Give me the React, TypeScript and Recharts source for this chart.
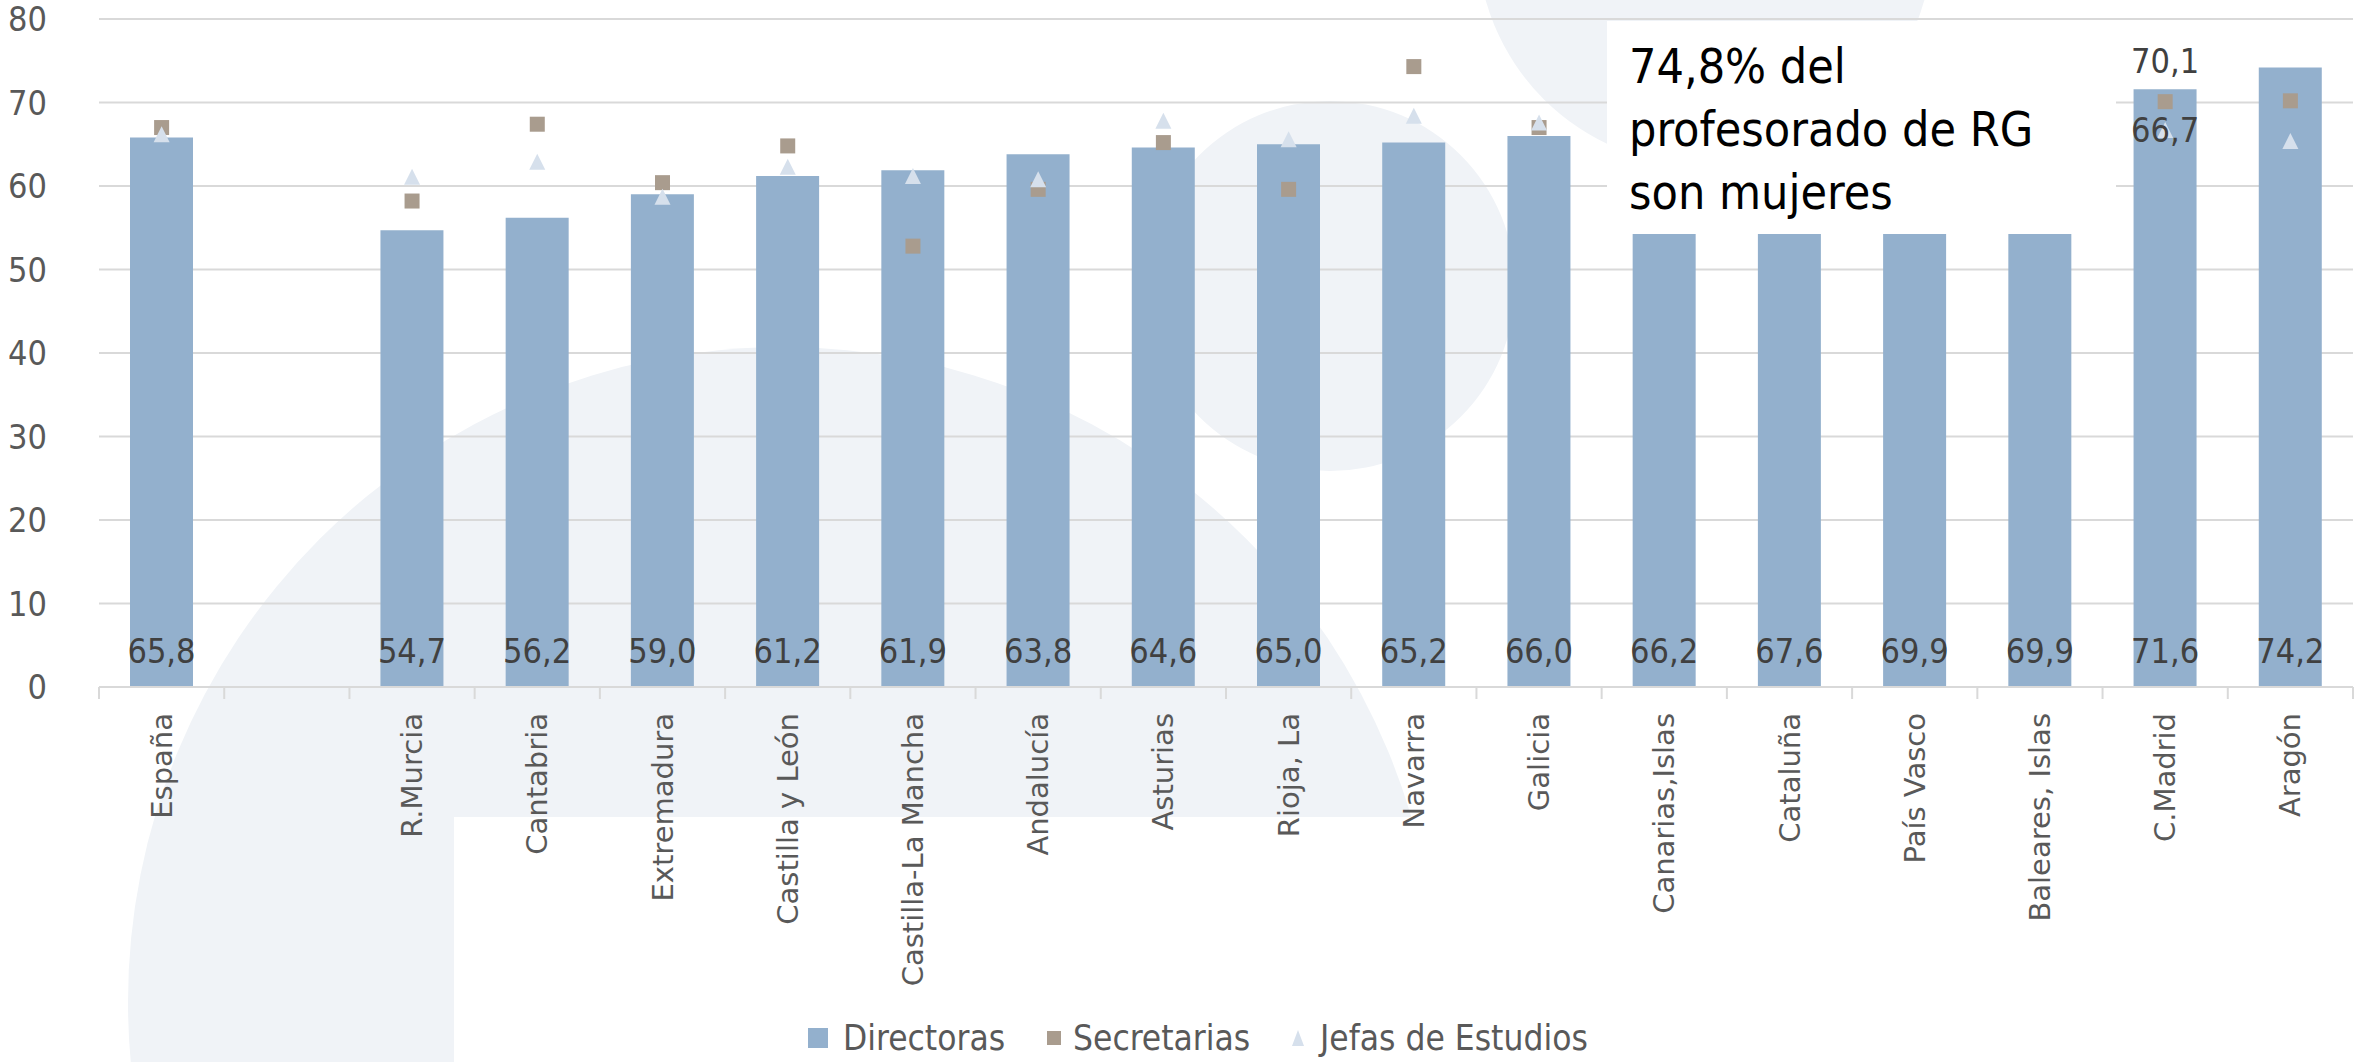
import { Bar, CartesianGrid, ComposedChart, LabelList, Legend, Scatter, XAxis, YAxis } from 'recharts'

const W = 2361
const H = 1062

const regions = [
  'España', '', 'R.Murcia', 'Cantabria', 'Extremadura', 'Castilla y León', 'Castilla-La Mancha',
  'Andalucía', 'Asturias', 'Rioja, La', 'Navarra', 'Galicia', 'Canarias,Islas', 'Cataluña',
  'País Vasco', 'Baleares, Islas', 'C.Madrid', 'Aragón',
]
const directoras = [65.8, null, 54.7, 56.2, 59.0, 61.2, 61.9, 63.8, 64.6, 65.0, 65.2, 66.0, 66.2, 67.6, 69.9, 69.9, 71.6, 74.2]
const secretarias = [67.0, null, 58.2, 67.4, 60.4, 64.8, 52.8, 59.6, 65.2, 59.6, 74.3, 67.0, 66.0, 68.0, 70.0, 68.5, 70.1, 70.2]
const jefas = [66.2, null, 61.1, 62.9, 58.7, 62.3, 61.2, 60.8, 67.8, 65.6, 68.4, 67.6, 67.0, 66.5, 69.0, 67.5, 66.7, 65.4]
const labelledRegions = ['C.Madrid']
const yTicks = [0, 10, 20, 30, 40, 50, 60, 70, 80]

const data = regions.map((region, i) => ({
  region,
  directoras: directoras[i],
  secretarias: secretarias[i],
  jefas: jefas[i],
}))

const FONT_N = "'Liberation Sans Narrow', 'Arial Narrow', 'DejaVu Sans Condensed', sans-serif"
const FONT_X = "'DejaVu Sans', Verdana, sans-serif"
const WM = '#F0F3F7'
const PLOT_LEFT = 99
const PLOT_RIGHT = 8
const BAND = (W - PLOT_LEFT - PLOT_RIGHT) / regions.length

const fmt = (v: any) => (v == null ? '' : Number(v).toFixed(1).replace('.', ','))

function RegionTick(props: any) {
  const { x, y, payload, index } = props
  const last = index === regions.length - 1
  return (
    <g>
      <line x1={x - BAND / 2} x2={x - BAND / 2} y1={y} y2={y + 12} stroke="#D9D9D9" strokeWidth={2} />
      {last && <line x1={x + BAND / 2} x2={x + BAND / 2} y1={y} y2={y + 12} stroke="#D9D9D9" strokeWidth={2} />}
      {payload.value && (
        <text
          transform={`translate(${x},${y + 26}) rotate(-90)`}
          textAnchor="end"
          dominantBaseline="central"
          fill="#595959"
          fontSize={29}
          fontFamily={FONT_X}
        >
          {payload.value}
        </text>
      )}
    </g>
  )
}

function SquareMark(props: any) {
  const { cx, cy, payload } = props
  if (payload.secretarias == null || !Number.isFinite(cy)) return <g />
  return (
    <g>
      <rect x={cx - 7.5} y={cy - 7.5} width={15} height={15} fill="#A99C8E" />
      {labelledRegions.includes(payload.region) && (
        <text x={cx} y={cy - 29} textAnchor="middle" fill="#404040" fontSize={34} fontFamily={FONT_N}>
          {fmt(payload.secretarias)}
        </text>
      )}
    </g>
  )
}

function TriangleMark(props: any) {
  const { cx, cy, payload } = props
  if (payload.jefas == null || !Number.isFinite(cy)) return <g />
  return (
    <g>
      <polygon points={`${cx},${cy - 8} ${cx + 8},${cy + 8} ${cx - 8},${cy + 8}`} fill="#D6E0EC" />
      {labelledRegions.includes(payload.region) && (
        <text x={cx} y={cy + 12} textAnchor="middle" fill="#404040" fontSize={34} fontFamily={FONT_N}>
          {fmt(payload.jefas)}
        </text>
      )}
    </g>
  )
}

// legend item left edges (marker, text), by series name
const legendPos: Record<string, { marker: number; text: number }> = {
  Directoras: { marker: 808, text: 843 },
  Secretarias: { marker: 1047, text: 1073 },
  'Jefas de Estudios': { marker: 1292, text: 1320 },
}

function LegendRow(props: any) {
  const items = props.payload ?? []
  return (
    <div style={{ position: 'relative', width: W, height: 48 }}>
      {items.map((item: any) => {
        const pos = legendPos[item.value]
        if (!pos) return null
        let marker
        if (item.value === 'Directoras') marker = <div style={{ width: 20, height: 20, background: '#93B0CD' }} />
        else if (item.value === 'Secretarias') marker = <div style={{ width: 14, height: 14, background: '#A99C8E' }} />
        else
          marker = (
            <svg width={12} height={16} style={{ display: 'block' }}>
              <polygon points="6,0 12,16 0,16" fill="#D6E0EC" />
            </svg>
          )
        return (
          <div key={item.value} style={{ position: 'absolute', top: 0, height: 48, left: pos.marker, display: 'flex', alignItems: 'center' }}>
            {marker}
            <span
              style={{
                position: 'absolute',
                left: pos.text - pos.marker,
                whiteSpace: 'nowrap',
                fontFamily: FONT_N,
                fontSize: 35,
                color: '#595959',
              }}
            >
              {item.value}
            </span>
          </div>
        )
      })}
    </div>
  )
}

function Watermark() {
  return (
    <svg width={W} height={H} style={{ position: 'absolute', left: 0, top: 0 }}>
      <circle cx={783} cy={1002} r={655} fill={WM} />
      <rect x={454} y={817} width={1150} height={245} fill="#fff" />
      <circle cx={1330} cy={286} r={185} fill={WM} />
      <circle cx={1705} cy={-62} r={228} fill={WM} />
    </svg>
  )
}

export default function App() {
  return (
    <div style={{ position: 'absolute', left: 0, top: 0, width: W, height: H, background: '#fff', overflow: 'hidden' }}>
      <Watermark />
      <div style={{ position: 'absolute', left: 0, top: 0 }}>
        <ComposedChart width={W} height={H} data={data} margin={{ top: 19, right: PLOT_RIGHT, bottom: 27, left: 0 }}>
          <CartesianGrid vertical={false} stroke="#D9D9D9" strokeWidth={2} />
          <XAxis
            dataKey="region"
            interval={0}
            height={300}
            tickLine={false}
            tickSize={0}
            tickMargin={0}
            axisLine={{ stroke: '#D9D9D9', strokeWidth: 2 }}
            tick={(p: any) => <RegionTick {...p} />}
          />
          <YAxis
            domain={[0, 80]}
            ticks={yTicks}
            width={PLOT_LEFT}
            axisLine={false}
            tickLine={false}
            tickSize={0}
            tickMargin={52}
            tick={{ fill: '#595959', fontSize: 34, fontFamily: FONT_N }}
          />
          <Bar dataKey="directoras" name="Directoras" fill="#93B0CD" barSize={63} isAnimationActive={false}>
            <LabelList
              dataKey="directoras"
              position="insideBottom"
              offset={24}
              fill="#404040"
              fontSize={34}
              fontFamily={FONT_N}
              formatter={fmt}
            />
          </Bar>
          <Scatter dataKey="secretarias" name="Secretarias" fill="#A99C8E" shape={SquareMark} isAnimationActive={false} />
          <Scatter dataKey="jefas" name="Jefas de Estudios" fill="#D6E0EC" shape={TriangleMark} isAnimationActive={false} />
          <Legend
            verticalAlign="bottom"
            content={(p: any) => <LegendRow {...p} />}
            wrapperStyle={{ left: 0, bottom: 0, width: W, height: 48 }}
          />
        </ComposedChart>
      </div>
      <div
        style={{
          position: 'absolute',
          left: 1607,
          top: 21,
          width: 509,
          height: 213,
          background: '#fff',
          boxSizing: 'border-box',
          padding: '14px 0 0 22px',
          fontFamily: FONT_N,
          fontSize: 48,
          lineHeight: '63px',
          color: '#000',
        }}
      >
        74,8% del
        <br />
        profesorado de RG
        <br />
        son mujeres
      </div>
    </div>
  )
}
